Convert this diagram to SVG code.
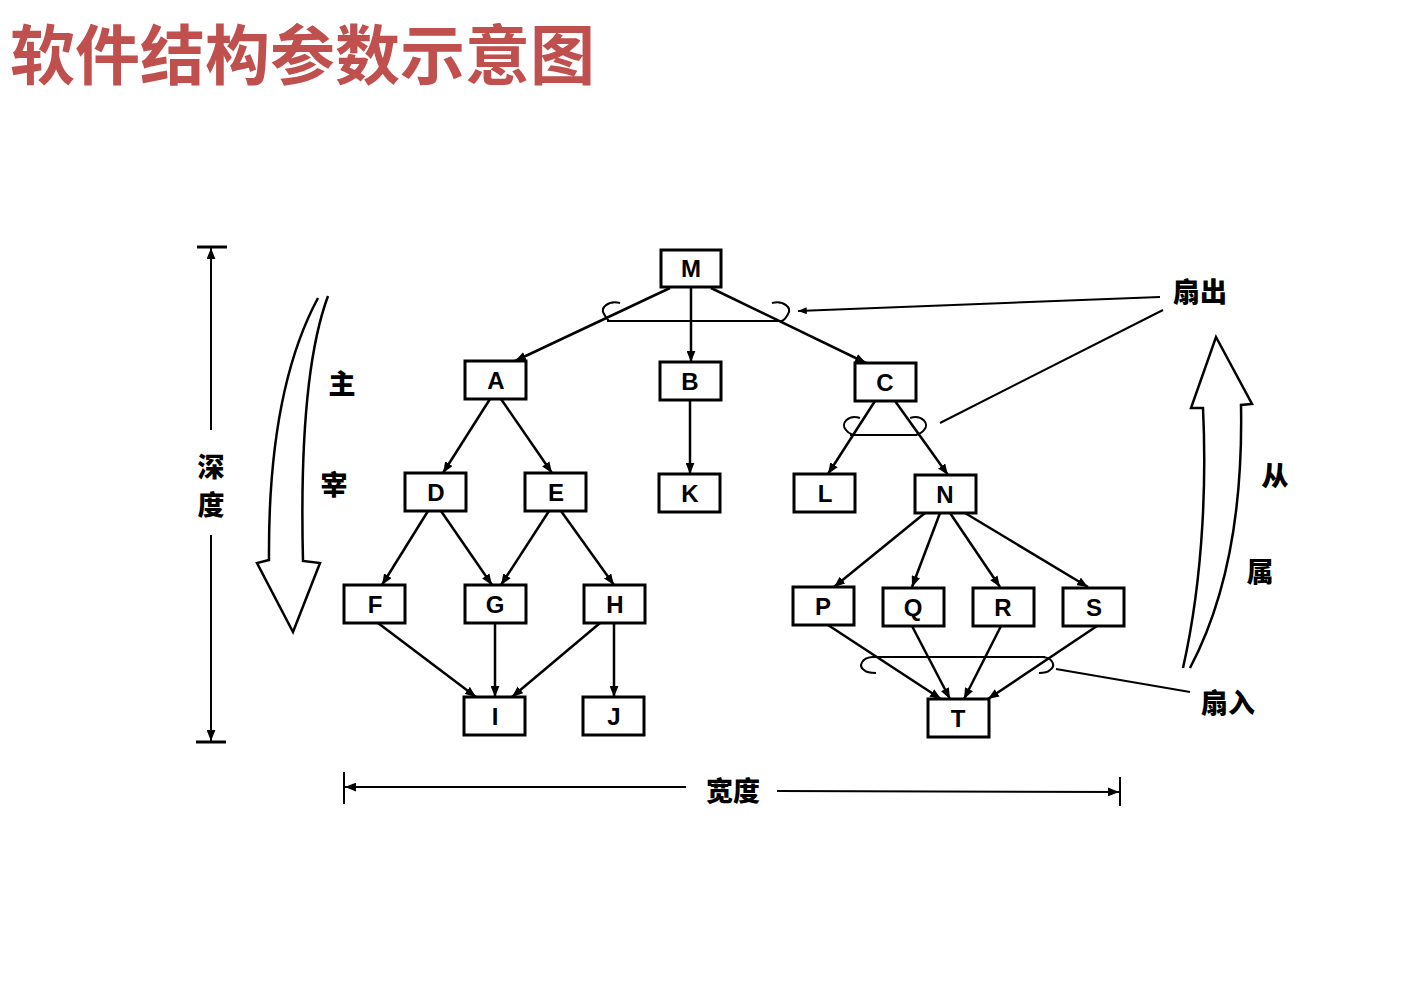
<svg xmlns="http://www.w3.org/2000/svg" width="1427" height="989" viewBox="0 0 1427 989">
<defs>
<marker id="ah" viewBox="0 0 10 8" refX="10" refY="4" markerWidth="11" markerHeight="9" markerUnits="userSpaceOnUse" orient="auto"><path d="M0,0 L10,4 L0,8 Z" fill="#000"/></marker>
<marker id="ahs" viewBox="0 0 10 8" refX="10" refY="4" markerWidth="9" markerHeight="7" markerUnits="userSpaceOnUse" orient="auto"><path d="M0,0 L10,4 L0,8 Z" fill="#000"/></marker>
<style>
.box{fill:#fff;stroke:#000;stroke-width:3}
.lt{font-family:"Liberation Sans",Arial,sans-serif;font-weight:bold;font-size:24px;fill:#000;text-anchor:middle}
.cn{font-family:"Noto Sans CJK SC","Noto Sans CJK TC",sans-serif;font-weight:900;font-size:27px;fill:#000;text-anchor:middle}
.e{stroke:#000;stroke-width:2.5;fill:none;marker-end:url(#ah)}
.ln{stroke:#000;stroke-width:2;fill:none}
.big{stroke:#000;stroke-width:2.5;fill:#fff;stroke-linejoin:miter}
</style>
</defs>
<rect width="1427" height="989" fill="#fff"/>
<text x="10" y="79" font-family="'Noto Sans CJK SC','Noto Sans CJK TC',sans-serif" font-weight="bold" font-size="65" fill="#C0504D">软件结构参数示意图</text>

<g id="connectors">
<line class="e" x1="670" y1="288" x2="515" y2="361"/>
<line class="e" x1="691" y1="288" x2="691" y2="362"/>
<line class="e" x1="711" y1="288" x2="866" y2="363"/>
<line class="e" x1="490" y1="399" x2="443" y2="473"/>
<line class="e" x1="501" y1="399" x2="552" y2="473"/>
<line class="e" x1="690" y1="400" x2="690" y2="474"/>
<line class="e" x1="875" y1="401" x2="828" y2="474"/>
<line class="e" x1="895" y1="401" x2="948" y2="475"/>
<line class="e" x1="428" y1="511" x2="382" y2="585"/>
<line class="e" x1="441" y1="511" x2="492" y2="585"/>
<line class="e" x1="549" y1="511" x2="501" y2="585"/>
<line class="e" x1="561" y1="511" x2="614" y2="585"/>
<line class="e" x1="378" y1="623" x2="476" y2="697"/>
<line class="e" x1="495" y1="623" x2="495" y2="697"/>
<line class="e" x1="600" y1="623" x2="512" y2="697"/>
<line class="e" x1="614" y1="623" x2="614" y2="697"/>
<line class="e" x1="925" y1="513" x2="834" y2="587"/>
<line class="e" x1="940" y1="513" x2="912" y2="587"/>
<line class="e" x1="950" y1="513" x2="1000" y2="587"/>
<line class="e" x1="965" y1="513" x2="1088" y2="587"/>
<line class="e" x1="828" y1="625" x2="941" y2="699"/>
<line class="e" x1="912" y1="626" x2="950" y2="699"/>
<line class="e" x1="1001" y1="626" x2="964" y2="699"/>
<line class="e" x1="1097" y1="626" x2="988" y2="699"/>
<!-- fan-out / fan-in markers -->
<line class="ln" x1="607" y1="321" x2="783" y2="321"/>
<path class="ln" d="M620,303 C608,300 600,308 604,314 C606,318 608,320 609,321"/>
<path class="ln" d="M772,303 C784,300 792,308 788,314 C786,318 784,320 782,321"/>
<line class="ln" x1="850" y1="435" x2="917" y2="435"/>
<path class="ln" d="M860,418 C848,414 840,424 846,430 C848,433 851,434 853,435"/>
<path class="ln" d="M910,418 C922,414 930,424 924,430 C922,433 919,434 916,435"/>
<line class="ln" x1="872" y1="657" x2="1045" y2="657"/>
<path class="ln" d="M872,657 C862,658 858,666 864,670 C867,673 872,673 876,673"/>
<path class="ln" d="M1043,657 C1053,658 1056,666 1050,670 C1047,673 1043,673 1039,673"/>
<line class="ln" x1="1160" y1="297" x2="798" y2="311" marker-end="url(#ahs)"/>
<line class="ln" x1="1163" y1="310" x2="940" y2="423"/>
<line class="ln" x1="1190" y1="692" x2="1056" y2="669"/>
<!-- depth dimension -->
<line class="ln" x1="197" y1="247" x2="227" y2="247" style="stroke-width:3"/>
<line class="ln" x1="196" y1="742" x2="226" y2="742" style="stroke-width:3"/>
<line class="ln" x1="211" y1="430" x2="211" y2="248" marker-end="url(#ah)"/>
<line class="ln" x1="211" y1="535" x2="211" y2="741" marker-end="url(#ah)"/>
<!-- width dimension -->
<line class="ln" x1="344" y1="772" x2="344" y2="804"/>
<line class="ln" x1="1120" y1="777" x2="1120" y2="806"/>
<line class="ln" x1="686" y1="787" x2="345" y2="787" marker-end="url(#ah)"/>
<line class="ln" x1="777" y1="791" x2="1119" y2="792" marker-end="url(#ah)"/>
<!-- big curved arrows -->
<path class="big" d="M318,298 C290,350 268,430 269,560 L257,563 L293,632 L320,563 L303,561 C300,440 308,350 328,296"/>
<path class="big" d="M1183,668 C1205,570 1206,470 1203,408 L1191,408 L1216,337 L1252,404 L1241,405 C1243,510 1226,600 1190,668"/>
</g>

<g id="M"><rect class="box" x="661" y="250" width="60" height="37"/><text class="lt" x="691" y="277">M</text></g>
<g id="A"><rect class="box" x="465" y="361" width="61" height="38"/><text class="lt" x="496" y="389">A</text></g>
<g id="B"><rect class="box" x="660" y="362" width="61" height="38"/><text class="lt" x="690" y="390">B</text></g>
<g id="C"><rect class="box" x="855" y="363" width="61" height="38"/><text class="lt" x="885" y="391">C</text></g>
<g id="D"><rect class="box" x="405" y="473" width="61" height="38"/><text class="lt" x="436" y="501">D</text></g>
<g id="E"><rect class="box" x="525" y="473" width="61" height="38"/><text class="lt" x="556" y="501">E</text></g>
<g id="K"><rect class="box" x="659" y="474" width="61" height="38"/><text class="lt" x="690" y="502">K</text></g>
<g id="L"><rect class="box" x="794" y="474" width="61" height="38"/><text class="lt" x="825" y="502">L</text></g>
<g id="N"><rect class="box" x="915" y="475" width="61" height="38"/><text class="lt" x="945" y="503">N</text></g>
<g id="F"><rect class="box" x="344" y="585" width="61" height="38"/><text class="lt" x="375" y="613">F</text></g>
<g id="G"><rect class="box" x="465" y="585" width="61" height="38"/><text class="lt" x="495" y="613">G</text></g>
<g id="H"><rect class="box" x="584" y="585" width="61" height="38"/><text class="lt" x="615" y="613">H</text></g>
<g id="P"><rect class="box" x="793" y="587" width="61" height="38"/><text class="lt" x="823" y="615">P</text></g>
<g id="Q"><rect class="box" x="883" y="588" width="61" height="38"/><text class="lt" x="913" y="616">Q</text></g>
<g id="R"><rect class="box" x="973" y="588" width="61" height="38"/><text class="lt" x="1003" y="616">R</text></g>
<g id="S"><rect class="box" x="1063" y="588" width="61" height="38"/><text class="lt" x="1094" y="616">S</text></g>
<g id="I"><rect class="box" x="464" y="697" width="61" height="38"/><text class="lt" x="495" y="725">I</text></g>
<g id="J"><rect class="box" x="583" y="697" width="61" height="38"/><text class="lt" x="614" y="725">J</text></g>
<g id="T"><rect class="box" x="928" y="699" width="61" height="38"/><text class="lt" x="958" y="727">T</text></g>

<g id="labels">
<text class="cn" x="1200" y="302">扇出</text>
<text class="cn" x="1228" y="713">扇入</text>
<text class="cn" x="1275" y="486">从</text>
<text class="cn" x="1260" y="582">属</text>
<text class="cn" x="342" y="394">主</text>
<text class="cn" x="334" y="495">宰</text>
<text class="cn" x="211" y="477">深</text>
<text class="cn" x="211" y="515">度</text>
<text class="cn" x="733" y="801">宽度</text>
</g>
</svg>
